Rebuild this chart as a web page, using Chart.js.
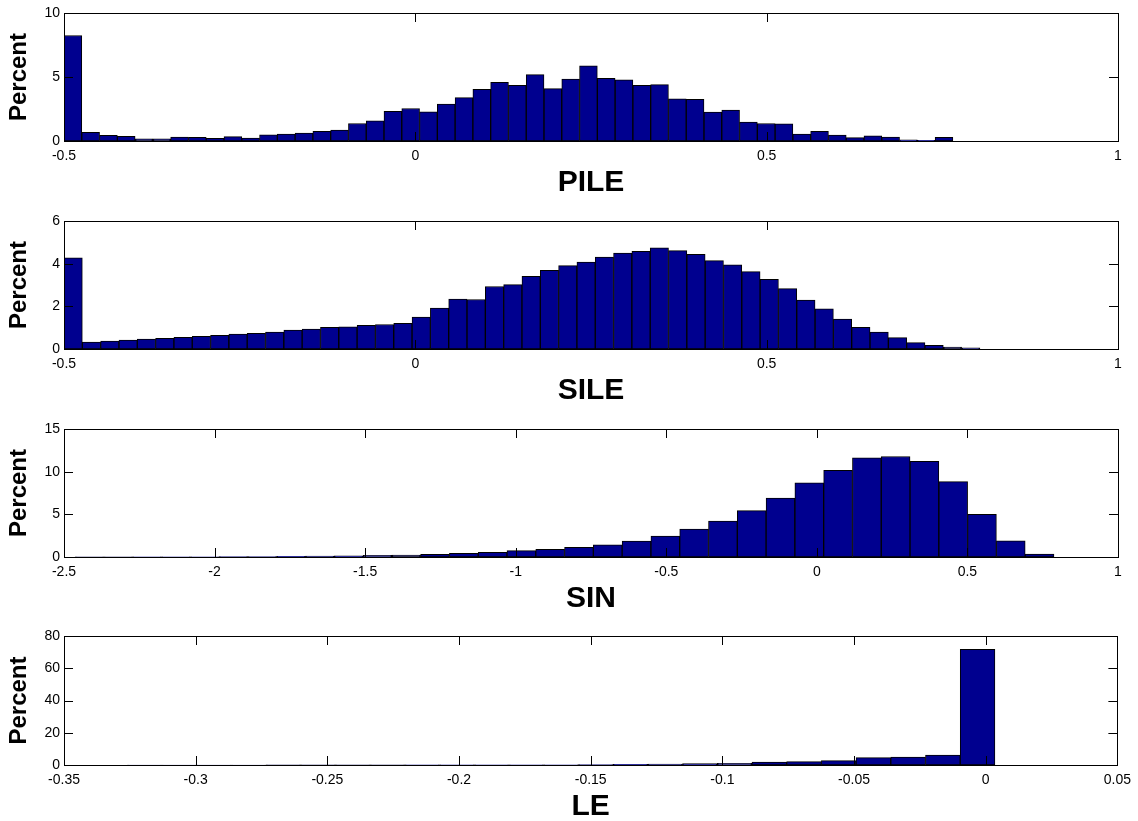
<!DOCTYPE html>
<html>
<head>
<meta charset="utf-8">
<script src="https://cdn.jsdelivr.net/npm/chart.js@4"></script>
<style>
  body { margin: 0; background: #fff; }
  .panel { position: absolute; left: 0; width: 1138px; }
</style>
</head>
<body>
<div class="panel" style="top:0px;height:201px"><canvas id="pile"></canvas></div>
<div class="panel" style="top:208px;height:201px"><canvas id="sile"></canvas></div>
<div class="panel" style="top:416px;height:201px"><canvas id="sin"></canvas></div>
<div class="panel" style="top:623px;height:202px"><canvas id="le"></canvas></div>
<script>
// histogram counts (percent per bin)
const pileStart = -0.5, pileWidth = 0.0253;
const pileValues = [8.24, 0.67, 0.44, 0.36, 0.16, 0.16, 0.31, 0.28, 0.21, 0.34,
    0.23, 0.49, 0.54, 0.62, 0.75, 0.85, 1.37, 1.58, 2.31, 2.54,
    2.28, 2.88, 3.39, 4.04, 4.59, 4.35, 5.18, 4.09, 4.84, 5.88,
    4.90, 4.77, 4.35, 4.40, 3.29, 3.26, 2.25, 2.41, 1.48, 1.37,
    1.35, 0.54, 0.75, 0.47, 0.26, 0.41, 0.31, 0.10, 0.05, 0.28];

const sileStart = -0.5, sileWidth = 0.02607;
const sileValues = [4.27, 0.33, 0.37, 0.42, 0.47, 0.50, 0.55, 0.59, 0.64, 0.70,
    0.73, 0.79, 0.89, 0.93, 1.01, 1.04, 1.11, 1.15, 1.20, 1.50,
    1.92, 2.34, 2.32, 2.93, 3.02, 3.41, 3.69, 3.91, 4.08, 4.31,
    4.50, 4.58, 4.74, 4.61, 4.44, 4.14, 3.94, 3.63, 3.27, 2.83,
    2.29, 1.88, 1.40, 1.01, 0.79, 0.53, 0.30, 0.17, 0.09, 0.05];

const sinStart = -2.463, sinWidth = 0.0956;
const sinValues = [0.01, 0.01, 0.02, 0.02, 0.03, 0.05, 0.06, 0.08, 0.12, 0.15,
    0.19, 0.23, 0.31, 0.43, 0.54, 0.74, 0.89, 1.12, 1.43, 1.86,
    2.44, 3.26, 4.22, 5.43, 6.90, 8.68, 10.16, 11.63, 11.78, 11.2,
    8.84, 5.0, 1.90, 0.35];

const leStart = -0.326, leWidth = 0.01318;
const leValues = [0.01, 0.01, 0.02, 0.02, 0.03, 0.03, 0.04, 0.05, 0.06, 0.08,
    0.10, 0.12, 0.15, 0.2, 0.41, 0.62, 0.83, 1.04, 1.86, 2.07,
    2.69, 4.55, 4.97, 6.2, 71.8];

// axis limits / tick steps
const pileX = [-0.5, 1, 0.5], pileY = [0, 10, 5];
const sileX = [-0.5, 1, 0.5], sileY = [0, 6, 2];
const sinX = [-2.5, 1, 0.5], sinY = [0, 15, 5];
const leX = [-0.35, 0.05, 0.05], leY = [0, 80, 20];

const FONT = '"Liberation Sans", Arial, Helvetica, sans-serif';

// bar centre = bin start + half a bin
function bins(start, width, values) {
    return values.map((v, i) => ({x: start + (i + 0.5) * width, y: v}));
}

// matlab style box with inward ticks on all four sides
const boxTicks = {
    id: 'boxTicks',
    afterDraw(chart) {
        const ctx = chart.ctx;
        const a = chart.chartArea;
        const {x, y} = chart.scales;
        const len = 9;
        ctx.save();
        ctx.strokeStyle = '#000';
        ctx.lineWidth = 1;
        ctx.beginPath();
        x.ticks.forEach(t => {
            const px = Math.round(x.getPixelForValue(t.value)) + 0.5;
            ctx.moveTo(px, a.bottom);
            ctx.lineTo(px, a.bottom - len);
            ctx.moveTo(px, a.top);
            ctx.lineTo(px, a.top + len);
        });
        y.ticks.forEach(t => {
            const py = Math.round(y.getPixelForValue(t.value)) + 0.5;
            ctx.moveTo(a.left, py);
            ctx.lineTo(a.left + len, py);
            ctx.moveTo(a.right, py);
            ctx.lineTo(a.right - len, py);
        });
        ctx.stroke();
        ctx.strokeRect(Math.round(a.left) + 0.5, Math.round(a.top) + 0.5,
            Math.round(a.width), Math.round(a.height));
        ctx.restore();
    }
};

function fmt(v) {
    return String(Number(v.toFixed(3)));
}

function histChart(id, name, start, width, values, xr, yr) {
    return new Chart(document.getElementById(id), {
        type: 'bar',
        data: {
            datasets: [{
                data: bins(start, width, values),
                backgroundColor: 'rgb(0, 0, 143)',
                borderColor: '#000',
                borderWidth: 1,
                borderSkipped: false,
                barPercentage: 1,
                categoryPercentage: 1
            }]
        },
        options: {
            responsive: true,
            maintainAspectRatio: false,
            animation: false,
            layout: {
                padding: {top: 13, right: 20, left: 0, bottom: 0}
            },
            plugins: {
                legend: {display: false},
                tooltip: {enabled: false}
            },
            scales: {
                x: {
                    type: 'linear',
                    offset: false,
                    min: xr[0],
                    max: xr[1],
                    afterFit: s => { s.height = 60; },
                    grid: {display: false, drawTicks: false},
                    border: {display: false},
                    ticks: {
                        stepSize: xr[2],
                        color: '#000',
                        padding: 7,
                        maxRotation: 0,
                        autoSkip: false,
                        font: {family: FONT, size: 14},
                        callback: v => fmt(v)
                    },
                    title: {
                        display: true,
                        text: name,
                        color: '#000',
                        padding: {top: 0, bottom: 0},
                        font: {family: FONT, size: 30, weight: 'bold', lineHeight: 1.2}
                    }
                },
                y: {
                    min: yr[0],
                    max: yr[1],
                    afterFit: s => { s.width = 64; },
                    grid: {display: false, drawTicks: false},
                    border: {display: false},
                    ticks: {
                        stepSize: yr[2],
                        color: '#000',
                        padding: 4,
                        font: {family: FONT, size: 14},
                        callback: v => fmt(v)
                    },
                    title: {
                        display: true,
                        text: 'Percent',
                        color: '#000',
                        padding: {top: 5, bottom: 0},
                        font: {family: FONT, size: 24, weight: 'bold', lineHeight: 1.2}
                    }
                }
            }
        },
        plugins: [boxTicks]
    });
}

histChart('pile', 'PILE', pileStart, pileWidth, pileValues, pileX, pileY);
histChart('sile', 'SILE', sileStart, sileWidth, sileValues, sileX, sileY);
histChart('sin', 'SIN', sinStart, sinWidth, sinValues, sinX, sinY);
histChart('le', 'LE', leStart, leWidth, leValues, leX, leY);
</script>
</body>
</html>
